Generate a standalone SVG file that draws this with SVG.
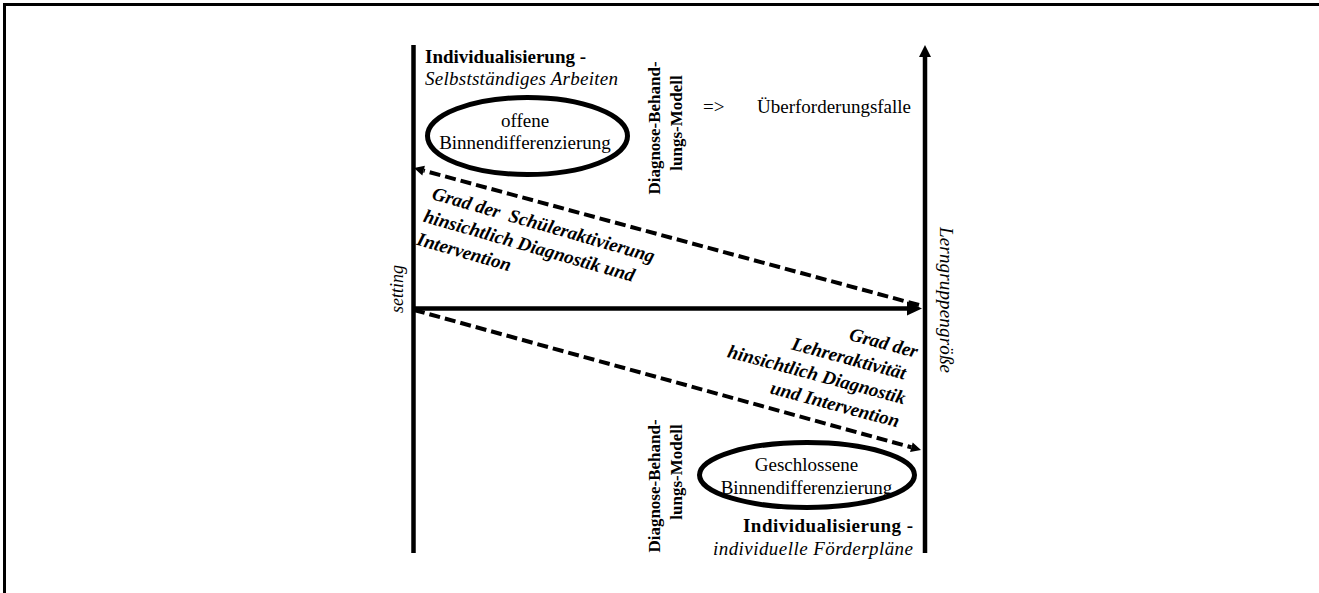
<svg xmlns="http://www.w3.org/2000/svg" width="1319" height="593" viewBox="0 0 1319 593">
<style>
text{font-family:"Liberation Serif","Times New Roman",serif;fill:#000}
.r{font-size:19px}
.b{font-size:19px;font-weight:bold}
.i{font-size:19px;font-style:italic}
.rb{font-size:17px;font-weight:bold}
.bi{font-size:19px;font-weight:bold;font-style:italic;white-space:pre}
.ax{stroke:#000;stroke-width:4.5;fill:none}
.ds{stroke:#000;stroke-width:4;fill:none;stroke-dasharray:11 5}
.el{stroke:#000;stroke-width:5;fill:#fff}
</style>
<defs>
<marker id="hBig" markerUnits="userSpaceOnUse" markerWidth="16" markerHeight="14" refX="0" refY="7" orient="auto" overflow="visible"><path d="M0,0 L15,7 L0,14 z" fill="#000"/></marker>
<marker id="hUp" markerUnits="userSpaceOnUse" markerWidth="13" markerHeight="12" refX="0" refY="6" orient="auto" overflow="visible"><path d="M0,0 L12,6 L0,12 z" fill="#000"/></marker>
<marker id="hSm" markerUnits="userSpaceOnUse" markerWidth="11" markerHeight="10" refX="0" refY="5" orient="auto" overflow="visible"><path d="M0,0 L10,5 L0,10 z" fill="#000"/></marker>
</defs>
<rect width="1319" height="593" fill="#fff"/>
<path d="M4.5,593 V4.5 H1319" stroke="#000" stroke-width="3" fill="none"/>

<g id="connectors">
<line id="axis-left" class="ax" x1="413.5" y1="45" x2="413.5" y2="553"/>
<line id="axis-right" class="ax" x1="925" y1="553" x2="925" y2="57" marker-end="url(#hUp)"/>
<line id="axis-h" class="ax" x1="413" y1="308.5" x2="907" y2="308.5" stroke-width="5" marker-end="url(#hBig)"/>
<line id="dash-up" class="ds" x1="919" y1="305" x2="423.6" y2="170.6" marker-end="url(#hSm)"/>
<line id="dash-down" class="ds" x1="414" y1="310" x2="911.4" y2="447.3" marker-end="url(#hSm)"/>
</g>

<g id="node-top-left">
<text class="b" x="425" y="63">Individualisierung -</text>
<text class="i" x="425" y="85" textLength="193">Selbstständiges Arbeiten</text>
</g>

<g id="node-offene">
<ellipse class="el" cx="527.5" cy="136" rx="100" ry="38.5"/>
<text class="r" x="525" y="127" text-anchor="middle">offene</text>
<text class="r" x="525" y="149" text-anchor="middle">Binnendifferenzierung</text>
</g>

<g id="node-dbm-top">
<text class="rb" transform="translate(660,128) rotate(-90)" text-anchor="middle">Diagnose-Behand-</text>
<text class="rb" transform="translate(682,123) rotate(-90)" text-anchor="middle">lungs-Modell</text>
</g>

<g id="node-ueberforderung">
<text class="r" x="703" y="113">=&gt;</text>
<text class="r" x="757" y="113">Überforderungsfalle</text>
</g>

<g id="node-setting">
<text class="i" transform="translate(403,289) rotate(-90)" text-anchor="middle" style="font-size:18px">setting</text>
</g>

<g id="node-lerngruppe">
<text class="i" transform="translate(940,300) rotate(90)" text-anchor="middle" textLength="146">Lerngruppengröße</text>
</g>

<g id="node-schueler" transform="translate(431,199) rotate(16)">
<text class="bi" x="0" y="0">Grad der  Schüleraktivierung</text>
<text class="bi" x="-2" y="24">hinsichtlich Diagnostik und</text>
<text class="bi" x="-2" y="48">Intervention</text>
</g>

<g id="node-lehrer" transform="translate(916,358) rotate(15)">
<text class="bi" x="0" y="0" text-anchor="end">Grad der</text>
<text class="bi" x="-6" y="24" text-anchor="end">Lehreraktivität</text>
<text class="bi" x="0" y="48" text-anchor="end">hinsichtlich Diagnostik</text>
<text class="bi" x="0" y="72" text-anchor="end">und Intervention</text>
</g>

<g id="node-dbm-bottom">
<text class="rb" transform="translate(660,486) rotate(-90)" text-anchor="middle">Diagnose-Behand-</text>
<text class="rb" transform="translate(682,472) rotate(-90)" text-anchor="middle">lungs-Modell</text>
</g>

<g id="node-geschlossene">
<ellipse class="el" cx="807" cy="475" rx="107.5" ry="32.5"/>
<text class="r" x="806.5" y="471" text-anchor="middle">Geschlossene</text>
<text class="r" x="806.5" y="494" text-anchor="middle">Binnendifferenzierung</text>
</g>

<g id="node-bottom-right">
<text class="b" x="913" y="532" text-anchor="end" textLength="170">Individualisierung -</text>
<text class="i" x="913" y="555" text-anchor="end" textLength="200">individuelle Förderpläne</text>
</g>
</svg>
